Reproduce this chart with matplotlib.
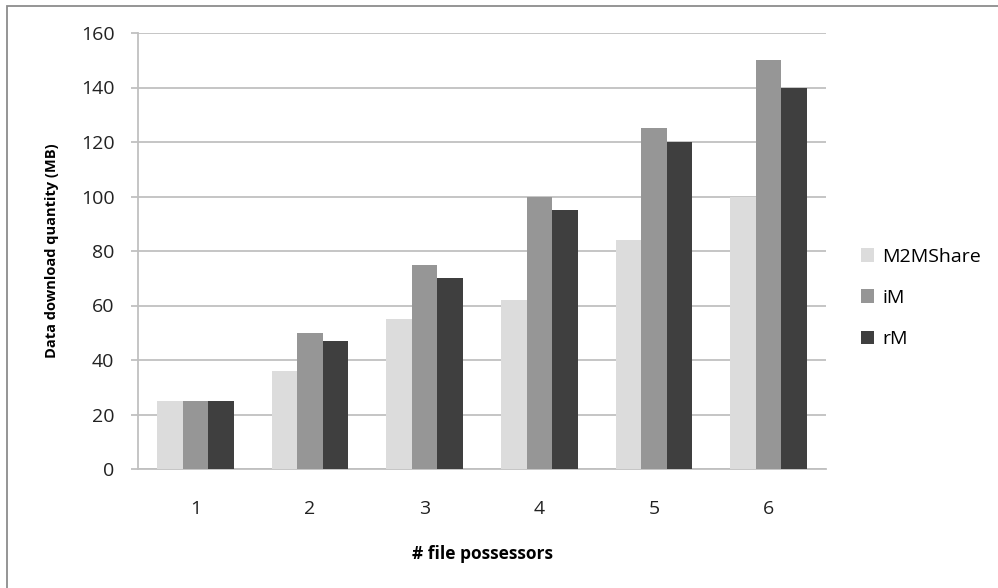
import matplotlib.pyplot as plt
import numpy as np
from matplotlib.patches import Rectangle

plt.rcParams['font.family'] = ['Open Sans', 'DejaVu Sans']

# Download quantities per number of file possessors
possessors = ["1", "2", "3", "4", "5", "6"]
m2mshare = [25, 36, 55, 62, 84, 100]
im = [25, 50, 75, 100, 125, 150]
rm = [25, 47, 70, 95, 120, 140]

series = [
    ("M2MShare", m2mshare, "#dcdcdc"),
    ("iM", im, "#969696"),
    ("rM", rm, "#3f3f3f"),
]

fig = plt.figure(figsize=(9.98, 5.88), dpi=100)
ax = fig.add_axes([138 / 998, 1 - 469 / 588, (826 - 138) / 998, (469 - 33) / 588])

x = np.arange(len(possessors))
width = 1 / 4.5
for i, (name, vals, color) in enumerate(series):
    ax.bar(x + (i - 1) * width, vals, width, color=color, label=name, zorder=3)

ax.set_xlim(-0.5, len(possessors) - 0.5)
ax.set_ylim(0, 160)
ax.set_yticks(range(0, 161, 20))
ax.set_xticks(x)
ax.set_xticklabels(possessors)

grid_color = "#c0c0c0"
ax.yaxis.grid(True, color=grid_color, linewidth=1.3, zorder=0)
for side in ["top", "right"]:
    ax.spines[side].set_visible(False)
ax.spines["left"].set_color(grid_color)
ax.spines["bottom"].set_color(grid_color)
ax.spines["left"].set_linewidth(1.3)
ax.spines["bottom"].set_linewidth(1.3)
ax.tick_params(axis="y", colors=grid_color, length=5, width=1.3, labelcolor="#222222",
               labelsize=14, pad=12)
ax.tick_params(axis="x", length=0, labelcolor="#222222", labelsize=14, pad=22)

ax.set_xlabel("# file possessors", fontsize=12.5, fontweight="bold", labelpad=20)
ax.set_ylabel("Data download quantity (MB)", fontsize=10.5, fontweight="bold", labelpad=16)

ax.legend(loc="center left", bbox_to_anchor=(1.025, 0.392), frameon=False,
          fontsize=14, handlelength=0.7, handleheight=0.7, handletextpad=0.4,
          labelspacing=1.2)

# outer chart frame
fig.patches.append(Rectangle((7 / 998, -0.1), 1.2, 1.1 - 6 / 588,
                             transform=fig.transFigure, fill=False,
                             edgecolor="#8c8c8c", linewidth=1.3))

fig.savefig("out.png", dpi=100)
